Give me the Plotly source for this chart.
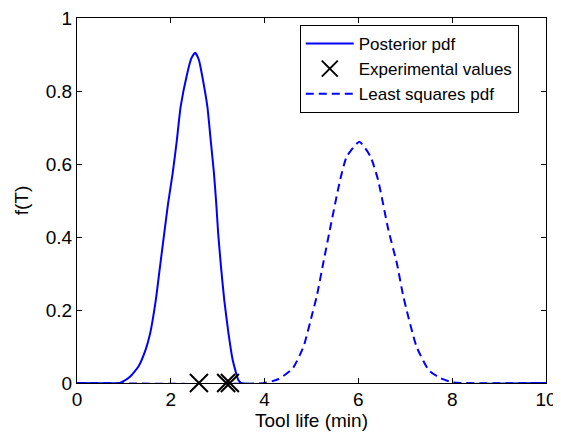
import plotly.graph_objects as go

# Posterior pdf
post_T = [0, 0.9, 0.95, 1.13, 1.31, 1.46, 1.56, 1.68, 1.77, 1.86, 1.94, 2.04, 2.13, 2.21,
          2.35, 2.44, 2.52, 2.60, 2.66, 2.78, 2.85, 2.92, 2.97, 3.01, 3.07, 3.14, 3.23,
          3.32, 3.44, 3.5, 10]
post_f = [0, 0, 0.002, 0.017, 0.045, 0.09, 0.136, 0.227, 0.319, 0.41, 0.49, 0.575, 0.666, 0.757,
          0.848, 0.89, 0.905, 0.885, 0.848, 0.757, 0.666, 0.575, 0.49, 0.41, 0.319, 0.227, 0.136,
          0.063, 0.008, 0, 0]

# Least squares pdf
ls_T = [0, 4.0, 4.3, 4.6, 4.83, 5.02, 5.11, 5.25, 5.39, 5.61, 5.75, 6.02, 6.26, 6.42, 6.64,
        6.82, 6.96, 7.24, 7.5, 7.74, 8.0, 10]
ls_f = [0, 0, 0.011, 0.04, 0.0995, 0.191, 0.236, 0.328, 0.419, 0.556, 0.62, 0.661, 0.62, 0.556, 0.419,
        0.328, 0.236, 0.0995, 0.035, 0.014, 0.002, 0]

# Experimental values
exp_T = [2.6, 3.18, 3.26]
exp_f = [0, 0, 0]

x_ticks = [0, 2, 4, 6, 8, 10]
y_ticks = [0, 0.2, 0.4, 0.6, 0.8, 1]
y_labels = ["0", "0.2", "0.4", "0.6", "0.8", "1"]

BLUE = "#0000ff"
FONT = "Liberation Sans, Arial, sans-serif"

fig = go.Figure()
fig.add_trace(go.Scatter(x=post_T, y=post_f, mode="lines", name="Posterior pdf",
                         line=dict(color=BLUE, width=2, shape="spline", smoothing=0.5)))
fig.add_trace(go.Scatter(x=exp_T, y=exp_f, mode="markers", name="Experimental values",
                         cliponaxis=False,
                         marker=dict(symbol="x-thin-open", size=18, color="black",
                                     line=dict(color="black", width=2))))
fig.add_trace(go.Scatter(x=ls_T, y=ls_f, mode="lines", name="Least squares pdf",
                         line=dict(color=BLUE, width=2, dash="8px,5px", shape="spline", smoothing=0.5)))

axis_common = dict(showline=True, linecolor="black", linewidth=1, mirror="ticks",
                   ticks="inside", ticklen=5, tickcolor="black", showgrid=False, zeroline=False,
                   ticklabeloverflow="allow", automargin=False,
                   tickfont=dict(family=FONT, size=19, color="black"))

# The page body has an 8px margin, so the figure is sized to fit the 561x433 window.
fig.update_layout(
    width=553, height=425,
    margin=dict(l=69, r=15, t=10, b=50),
    paper_bgcolor="white", plot_bgcolor="white",
    font=dict(family=FONT, color="black"),
    xaxis=dict(range=[0, 10], tickvals=x_ticks, ticklabelstandoff=-1,
               title=dict(text="Tool life (min)", font=dict(family=FONT, size=19), standoff=4),
               **axis_common),
    yaxis=dict(range=[0, 1], tickvals=y_ticks, ticktext=y_labels,
               title=dict(text="f(T)", font=dict(family=FONT, size=19), standoff=12),
               **axis_common),
    legend=dict(x=0.475, y=0.981, xanchor="left", yanchor="top",
                bordercolor="black", borderwidth=1, bgcolor="white",
                font=dict(family=FONT, size=17, color="black"),
                itemwidth=48, tracegroupgap=0),
    showlegend=True,
)

fig.write_html("out.html")
